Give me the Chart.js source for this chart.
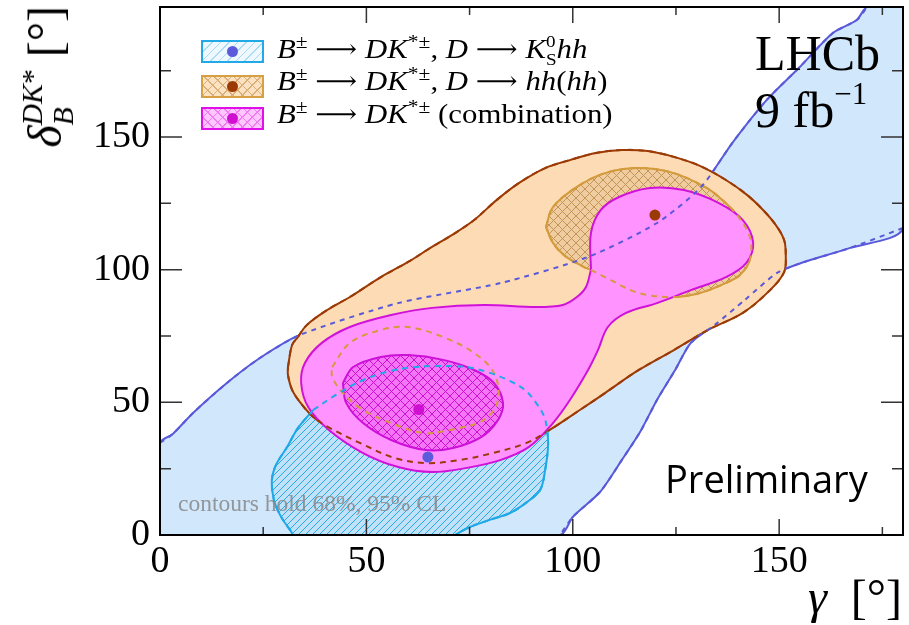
<!DOCTYPE html>
<html>
<head>
<meta charset="utf-8">
<script src="https://cdn.jsdelivr.net/npm/chart.js@4.4.1/dist/chart.umd.min.js"></script>
<style>
  html, body { margin: 0; padding: 0; background: #fff; }
  #wrap { position: relative; width: 909px; height: 625px; font-family: "Liberation Serif", "Times New Roman", serif; color: #000; }
  #c { position: absolute; left: 0; top: 0; }
  .lbl { position: absolute; white-space: nowrap; line-height: 1; }
  .leg { transform-origin: 0 0; transform: scaleX(1.1); font-size: 28px; left: 277px; }
  .stack { display: inline-block; font-size: 0.62em; line-height: 1.05; vertical-align: -0.4em; font-style: normal; }
  .stack > span { display: block; }
  .sup { font-size: 0.7em; vertical-align: 0.5em; line-height: 0; }
  .arr { font-family: "DejaVu Serif", serif; font-size: 0.95em; }
  .box { position: absolute; left: 201px; width: 59px; height: 19px; }
  .dot { position: absolute; left: 24px; top: 4px; width: 11px; height: 11px; border-radius: 50%; }
</style>
</head>
<body>
<div id="wrap">
  <canvas id="c" width="909" height="625"></canvas>

  <!-- legend -->
  <div class="box" style="top:40px;border:2px solid #22aae6;background:repeating-linear-gradient(-45deg,#a9dcf5 0 1px,#eef8fe 1px 6px);">
    <span class="dot" style="background:#5b5bdc"></span></div>
  <div class="box" style="top:75px;border:2px solid #d6a044;background:repeating-linear-gradient(45deg,#dcae78 0 1px,transparent 1px 7px),repeating-linear-gradient(-45deg,#dcae78 0 1px,#fbe2c2 1px 7px);">
    <span class="dot" style="background:#9c3a05"></span></div>
  <div class="box" style="top:107px;border:2px solid #e010e8;background:repeating-linear-gradient(45deg,#f27af2 0 1px,transparent 1px 7px),repeating-linear-gradient(-45deg,#f27af2 0 1px,#ffc6ff 1px 7px);">
    <span class="dot" style="background:#d010d0"></span></div>

  <div class="lbl leg" style="top:33px;"><i>B</i><span class="sup">±</span> <span class="arr">⟶</span> <i>DK</i><span class="sup">*±</span>, <i>D</i> <span class="arr">⟶</span> <i>K</i><span class="stack"><span>0</span><span>S</span></span><i>hh</i></div>
  <div class="lbl leg" style="top:67px;"><i>B</i><span class="sup">±</span> <span class="arr">⟶</span> <i>DK</i><span class="sup">*±</span>, <i>D</i> <span class="arr">⟶</span> <i>hh</i>(<i>hh</i>)</div>
  <div class="lbl leg" style="top:100px;"><i>B</i><span class="sup">±</span> <span class="arr">⟶</span> <i>DK</i><span class="sup">*±</span> (combination)</div>

  <div class="lbl" style="left:755px;top:28px;font-size:50px;">LHCb</div>
  <div class="lbl" style="left:755px;top:85px;font-size:50px;">9 fb<span style="font-size:0.62em;vertical-align:0.75em;line-height:0;">−1</span></div>
  <div class="lbl" style="left:665px;top:459px;font-size:38px;font-family:'Open Sans','Noto Sans',sans-serif;">Preliminary</div>
  <div class="lbl" style="left:178px;top:492px;font-size:23.5px;color:rgba(135,135,135,0.85);">contours hold 68%, 95% CL</div>

  <!-- axis titles -->
  <div class="lbl" style="right:7px;top:573px;font-size:48px;"><i>γ</i>&nbsp; [°]</div>
  <div class="lbl" style="left:0;top:0;font-size:48px;transform-origin:0 0;transform:translate(16px,6px) rotate(-90deg) translateX(-100%);"><i>δ</i><span class="stack"><span><i>DK</i>*</span><span><i>B</i></span></span>&nbsp;[°]</div>
</div>

<script>
// axis ranges and ticks
const xRange = [0, 180];
const yRange = [0, 199];
const xTicks = [0, 50, 100, 150];
const yTicks = [0, 50, 100, 150];
const xMinor = [25, 75, 125, 175];
const yMinor = [25, 75, 125, 175];

// B -> DK*, D -> KS hh : 95% band (upper and lower boundary), 68% contour
const kshhUpper = [[0,34.7],[3.1,38.1],[8.0,46.0],[16.2,57.3],[24.2,66.7],[33.9,75.4],[57.7,87.4],[82.6,95.0],
  [103.7,104.8],[120.4,117.6],[131.1,131.2],[138.8,148.1],[147.0,164.0],[155.0,176.4],[163.0,189.2],[168.8,194.1],[171.3,199]];
const kshhLower = [[180,115.7],[167.2,108.2],[155.3,102.5],[149.5,98.8],[141.7,88.6],[134.4,79.2],[128.6,72.4],
  [124.8,62.2],[120.4,50.9],[116.3,38.8],[111.9,28.3],[106.6,16.2],[100.0,6.8],[96.9,0]];
const kshh68 = [[37.1,47.1],[42.6,52.8],[49.2,58.4],[55.7,61.8],[61.8,63.3],[67.8,63.7],[74.4,63.3],[79.9,61.1],
  [84.3,58.4],[88.4,54.7],[91.1,49.8],[93.0,44.9],[93.8,39.6],[94.0,33.2],[93.3,24.5],[92.1,17.0],[88.9,12.4],
  [84.8,8.3],[79.9,5.7],[75.1,3.0],[71.5,0],[69.0,-2.6],[33.9,-2.6],[31.5,1.9],[29.1,7.5],[27.6,13.2],[27.1,20.7],
  [28.1,26.4],[30.8,33.2],[33.4,40.3]];

// B -> DK*, D -> hh(hh) : 95% contour, 68% islands
const hh95 = [[31.0,63.3],[32.0,71.6],[33.4,74.6],[35.6,79.2],[40.5,84.8],[46.0,89.7],[53.5,97.2],[60.1,102.9],
  [65.9,108.6],[71.5,113.8],[76.1,118.7],[81.6,126.3],[87.0,132.7],[93.3,138.3],[99.3,141.3],[105.6,144.0],
  [111.9,145.1],[118.2,144.7],[124.5,142.5],[130.8,139.1],[137.1,133.8],[142.2,128.2],[146.1,122.5],[149.2,116.8],
  [151.2,111.2],[151.6,105.5],[151.2,99.1],[147.8,92.3],[141.2,83.7],[132.8,77.3],[124.5,69.7],[116.0,62.2],
  [107.8,53.5],[101.7,47.1],[94.4,39.6],[88.8,34.7],[80.6,30.9],[72.7,28.3],[64.7,27.1],[56.9,29.0],[48.4,34.7],
  [41.2,40.3],[37.1,44.5],[33.9,50.1],[32.0,54.7],[31.0,60.3]];
const hh68top = [[93.5,116.1],[95.2,123.6],[101.0,131.2],[107.8,136.4],[116.0,138.3],[124.5,136.4],[132.0,131.2],
  [135.4,127.4],[139.8,120.6],[142.9,112.3],[142.9,103.7],[140.5,98.0],[137.1,95.0],[130.8,91.2],[124.5,89.7],
  [116.0,91.2],[107.8,97.2],[104.4,99.9],[102.7,101.0],[98.1,105.2],[95.2,110.1]];
const hh68low = [[41.7,63.3],[46.0,72.4],[53.5,77.3],[60.1,78.4],[68.6,74.6],[76.1,68.6],[80.9,61.1],[81.9,50.9],
  [78.5,43.4],[70.3,39.6],[63.5,38.5],[56.0,42.2],[49.2,47.1],[44.3,53.5],[41.7,59.6]];

// combination : 95% and 68% contours
const comb95 = [[104.4,99.9],[104.4,113.8],[106.8,122.5],[111.2,127.4],[118.7,130.8],[126.9,130.0],[135.4,125.1],
  [141.2,118.7],[143.7,110.1],[142.0,102.5],[137.1,97.2],[128.6,92.3],[120.4,87.4],[112.9,83.7],[108.5,78.4],
  [106.1,69.7],[103.7,62.2],[99.3,50.9],[95.2,42.2],[89.4,33.2],[82.6,28.3],[74.4,25.3],[65.9,23.7],[57.7,25.6],
  [49.2,30.9],[40.9,39.6],[35.9,48.2],[34.2,57.3],[35.1,64.8],[39.2,72.4],[46.0,78.4],[56.0,82.9],[65.9,85.6],
  [78.5,86.7],[91.1,85.9],[97.6,86.7],[101.0,89.7],[103.2,93.5]];
const comb68 = [[44.3,57.3],[46.8,63.3],[53.5,67.1],[60.1,67.8],[68.6,66.0],[76.1,62.2],[80.9,57.3],[83.1,49.8],
  [81.9,43.4],[77.8,36.9],[71.0,32.8],[64.4,32.0],[56.0,35.8],[49.2,42.2],[45.1,49.8]];

// best fit points: KS hh, hh(hh), combination
const bestFit = [[64.9,29.4],[119.9,120.6],[62.7,47.3]];
const bestFitColors = ['#5b5bdc', '#9c3a05', '#d010d0'];

const ctx = document.getElementById('c').getContext('2d');

// hatch / cross-hatch fill patterns
function hatch(bg, color, step, cross) {
  const c = document.createElement('canvas');
  c.width = c.height = step;
  const g = c.getContext('2d');
  if (bg) { g.fillStyle = bg; g.fillRect(0, 0, step, step); }
  g.strokeStyle = color;
  g.lineWidth = 1;
  g.beginPath();
  g.moveTo(0, step); g.lineTo(step, 0);
  g.moveTo(-2, 2); g.lineTo(2, -2);
  g.moveTo(step - 2, step + 2); g.lineTo(step + 2, step - 2);
  if (cross) {
    g.moveTo(0, 0); g.lineTo(step, step);
    g.moveTo(-2, step - 2); g.lineTo(2, step + 2);
    g.moveTo(step - 2, -2); g.lineTo(step + 2, 2);
  }
  g.stroke();
  return ctx.createPattern(c, 'repeat');
}

const pts = (arr, close) => (close ? [...arr, arr[0]] : arr).map(([x, y]) => ({ x, y }));

function area(arr, bg, line, order, tension) {
  return { type: 'line', data: pts(arr, true), fill: 'shape', backgroundColor: bg, borderColor: line,
    borderWidth: 2, pointRadius: 0, tension, order };
}
function dashed(arr, line, dash, order, tension, close) {
  return { type: 'line', data: pts(arr, close), fill: false, borderColor: line, borderWidth: 2,
    borderDash: dash, pointRadius: 0, tension, order };
}

const bandFill = [[0, 0], ...kshhUpper, [180, 199], ...kshhLower];

const frame = {
  id: 'frame',
  afterDatasetsDraw(chart) {
    const { ctx, chartArea: a, scales: { x, y } } = chart;
    ctx.save();
    ctx.strokeStyle = '#333';
    ctx.lineWidth = 1.5;
    ctx.beginPath();
    const xt = (vals, len) => vals.forEach(v => {
      if (v <= xRange[0]) return;
      const p = x.getPixelForValue(v);
      ctx.moveTo(p, a.bottom); ctx.lineTo(p, a.bottom - len);
      ctx.moveTo(p, a.top); ctx.lineTo(p, a.top + len);
    });
    const yt = (vals, len) => vals.forEach(v => {
      if (v <= yRange[0]) return;
      const p = y.getPixelForValue(v);
      ctx.moveTo(a.left, p); ctx.lineTo(a.left + len, p);
      ctx.moveTo(a.right, p); ctx.lineTo(a.right - len, p);
    });
    xt(xTicks, 16); xt(xMinor, 8);
    yt(yTicks, 22); yt(yMinor, 11);
    ctx.stroke();
    ctx.strokeStyle = '#000';
    ctx.lineWidth = 2;
    ctx.strokeRect(a.left, a.top, a.right - a.left, a.bottom - a.top);
    ctx.restore();
  }
};

const tickFont = { family: 'Liberation Serif', size: 38 };

new Chart(ctx, {
  type: 'line',
  data: {
    datasets: [
      area(bandFill, '#d1e7fc', '#5959d9', 20, 0.25),
      area(kshh68, hatch('rgba(160,215,245,0.35)', '#2aa8e2', 7, false), '#1fa9e6', 19, 0.35),
      area(hh95, '#fddbb4', '#9c3a05', 18, 0.35),
      area(hh68top, hatch('rgba(195,155,95,0.22)', '#c49456', 9, true), '#d39b3c', 17, 0.35),
      area(comb95, '#ff93ff', '#d012d8', 16, 0.35),
      area(comb68, hatch('rgba(220,50,225,0.3)', '#cc10d0', 9, true), '#cc10d8', 15, 0.35),
      dashed(kshhUpper, '#5959d9', [5, 5], 10, 0.25, false),
      dashed(kshhLower, '#5959d9', [5, 5], 10, 0.25, false),
      dashed(kshh68, '#1fa9e6', [6, 5], 10, 0.35, true),
      dashed(hh95, '#9c3a05', [6, 5], 10, 0.35, true),
      dashed(hh68top, '#d39b3c', [6, 5], 10, 0.35, true),
      dashed(hh68low, '#d39b3c', [6, 5], 10, 0.35, true),
      { type: 'scatter', data: pts(bestFit), pointRadius: 5.5, pointBackgroundColor: bestFitColors,
        pointBorderWidth: 0, order: 0 }
    ]
  },
  options: {
    animation: false,
    responsive: false,
    layout: { padding: { top: 7, right: 6, left: 0, bottom: 0 } },
    plugins: { legend: { display: false }, tooltip: { enabled: false } },
    scales: {
      x: {
        type: 'linear', min: xRange[0], max: xRange[1],
        afterBuildTicks: s => { s.ticks = xTicks.map(v => ({ value: v })); },
        afterFit: s => { s.height = 90; s.paddingLeft = 0; s.paddingRight = 0; },
        grid: { display: false, drawTicks: false },
        border: { display: false },
        ticks: { font: tickFont, color: '#000', padding: 4, maxRotation: 0, autoSkip: false }
      },
      y: {
        type: 'linear', min: yRange[0], max: yRange[1],
        afterBuildTicks: s => { s.ticks = yTicks.map(v => ({ value: v })); },
        afterFit: s => { s.width = 160; s.paddingTop = 0; s.paddingBottom = 0; },
        grid: { display: false, drawTicks: false },
        border: { display: false },
        ticks: { font: tickFont, color: '#000', padding: 10, autoSkip: false }
      }
    }
  },
  plugins: [frame]
});
</script>
</body>
</html>
